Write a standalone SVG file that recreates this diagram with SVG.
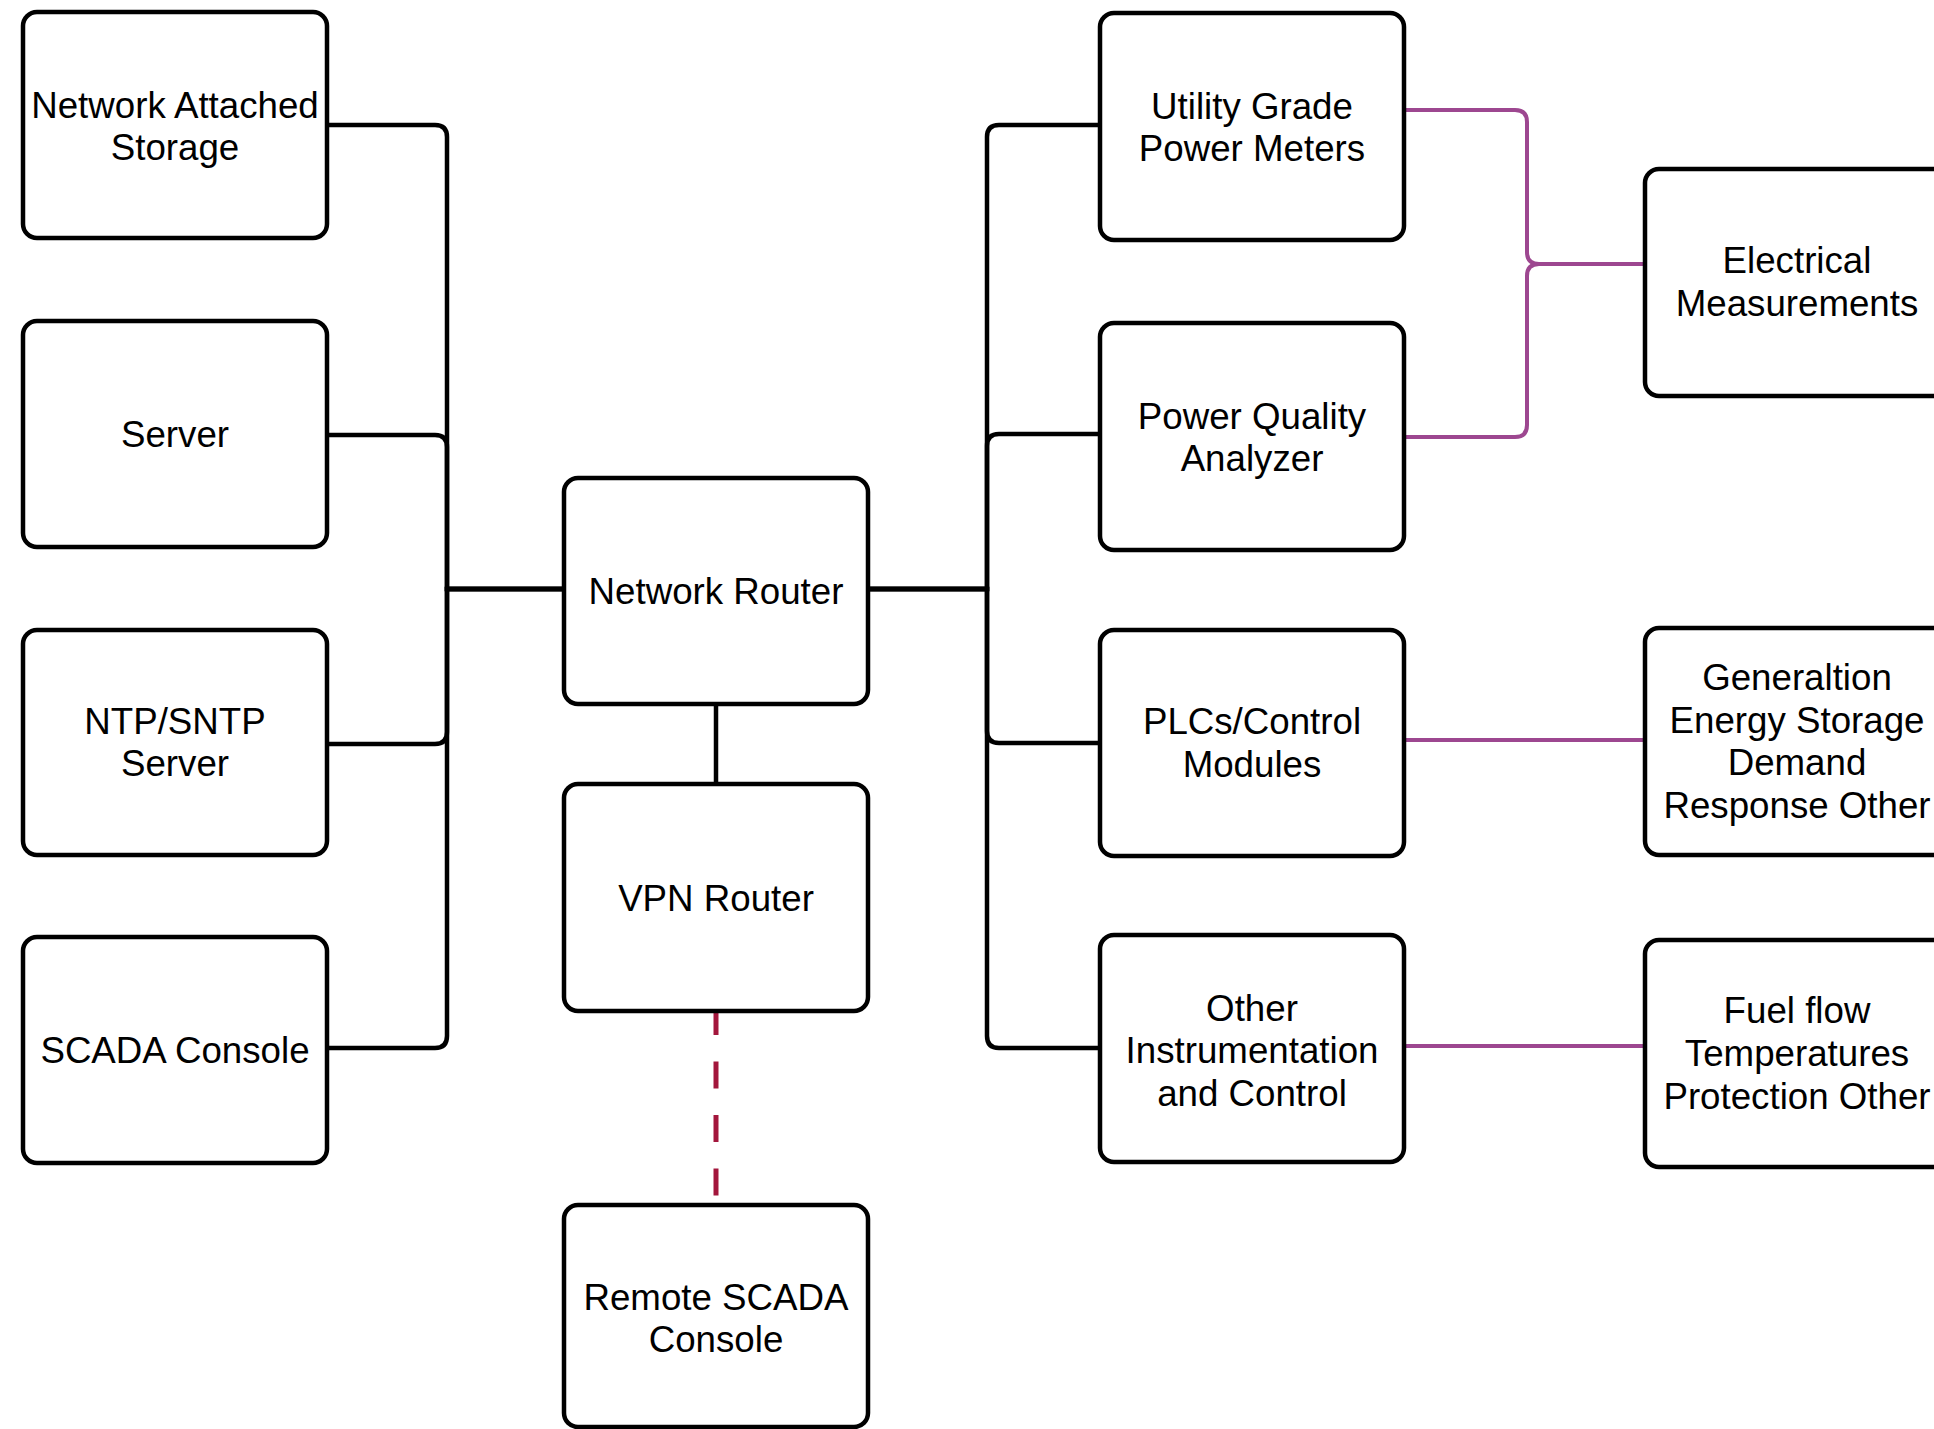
<svg xmlns="http://www.w3.org/2000/svg" width="1934" height="1429" viewBox="0 0 1934 1429">
<style>
.box{fill:#fff;stroke:#000;stroke-width:4.5}
.lbl{font-family:"Liberation Sans",Arial,sans-serif;font-size:36.7px;fill:#000;text-anchor:middle}
.blk{fill:none;stroke:#000;stroke-width:4.5}
.pur{fill:none;stroke:#9D4790;stroke-width:4}
.dash{fill:none;stroke:#A3163C;stroke-width:5;stroke-dasharray:27 26.5}
</style>
<rect width="1934" height="1429" fill="#fff"/>
<g id="connectors">
<path class="blk" d="M329,125 H435 Q447,125 447,137 V589 H564"/>
<path class="blk" d="M329,435 H435 Q447,435 447,447 V589 H564"/>
<path class="blk" d="M325,744 H435 Q447,744 447,732 V589 H564"/>
<path class="blk" d="M329,1048 H435 Q447,1048 447,1036 V589 H564"/>
<path class="blk" d="M868,589 H987 V137 Q987,125 999,125 H1100"/>
<path class="blk" d="M868,589 H987 V446 Q987,434 999,434 H1100"/>
<path class="blk" d="M868,589 H987 V731 Q987,743 999,743 H1100"/>
<path class="blk" d="M868,589 H987 V1036 Q987,1048 999,1048 H1100"/>
<path class="blk" d="M716,704 V784"/>
<path class="dash" d="M716,1008 V1205"/>
<path class="pur" d="M1404,110 H1515 Q1527,110 1527,122 V252 Q1527,264 1539,264 H1645"/>
<path class="pur" d="M1404,437 H1515 Q1527,437 1527,425 V276 Q1527,264 1539,264 H1645"/>
<path class="pur" d="M1404,740 H1645"/>
<path class="pur" d="M1404,1046 H1645"/>
</g>
<g id="nas"><rect class="box" x="23" y="12" width="304" height="226" rx="14"/><text class="lbl" x="175" y="118">Network Attached</text><text class="lbl" x="175" y="160">Storage</text></g>
<g id="server"><rect class="box" x="23" y="321" width="304" height="226" rx="14"/><text class="lbl" x="175" y="447">Server</text></g>
<g id="ntp"><rect class="box" x="23" y="630" width="304" height="225" rx="14"/><text class="lbl" x="175" y="734">NTP/SNTP</text><text class="lbl" x="175" y="776">Server</text></g>
<g id="scada"><rect class="box" x="23" y="937" width="304" height="226" rx="14"/><text class="lbl" x="175" y="1063">SCADA Console</text></g>
<g id="router"><rect class="box" x="564" y="478" width="304" height="226" rx="14"/><text class="lbl" x="716" y="604">Network Router</text></g>
<g id="vpn"><rect class="box" x="564" y="784" width="304" height="227" rx="14"/><text class="lbl" x="716" y="911">VPN Router</text></g>
<g id="remote"><rect class="box" x="564" y="1205" width="304" height="222" rx="14"/><text class="lbl" x="716" y="1310">Remote SCADA</text><text class="lbl" x="716" y="1352">Console</text></g>
<g id="ugpm"><rect class="box" x="1100" y="13" width="304" height="227" rx="14"/><text class="lbl" x="1252" y="119">Utility Grade</text><text class="lbl" x="1252" y="161">Power Meters</text></g>
<g id="pqa"><rect class="box" x="1100" y="323" width="304" height="227" rx="14"/><text class="lbl" x="1252" y="429">Power Quality</text><text class="lbl" x="1252" y="471">Analyzer</text></g>
<g id="plc"><rect class="box" x="1100" y="630" width="304" height="226" rx="14"/><text class="lbl" x="1252" y="734">PLCs/Control</text><text class="lbl" x="1252" y="777">Modules</text></g>
<g id="oic"><rect class="box" x="1100" y="935" width="304" height="227" rx="14"/><text class="lbl" x="1252" y="1021">Other</text><text class="lbl" x="1252" y="1063">Instrumentation</text><text class="lbl" x="1252" y="1106">and Control</text></g>
<g id="elec"><rect class="box" x="1645" y="169" width="304" height="227" rx="14"/><text class="lbl" x="1797" y="273">Electrical</text><text class="lbl" x="1797" y="316">Measurements</text></g>
<g id="gen"><rect class="box" x="1645" y="628" width="304" height="227" rx="14"/><text class="lbl" x="1797" y="690">Generaltion</text><text class="lbl" x="1797" y="733">Energy Storage</text><text class="lbl" x="1797" y="775">Demand</text><text class="lbl" x="1797" y="818">Response Other</text></g>
<g id="fuel"><rect class="box" x="1645" y="940" width="304" height="227" rx="14"/><text class="lbl" x="1797" y="1023">Fuel flow</text><text class="lbl" x="1797" y="1066">Temperatures</text><text class="lbl" x="1797" y="1109">Protection Other</text></g>
</svg>
